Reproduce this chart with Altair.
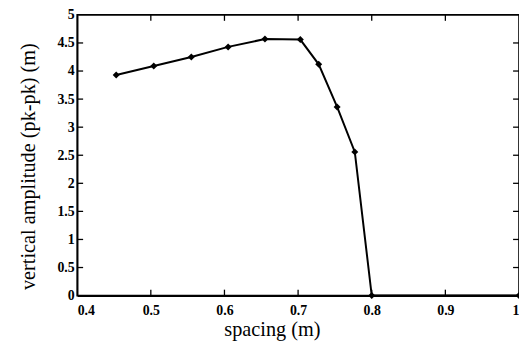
import altair as alt
import pandas as pd

# data
spacing = [0.453, 0.504, 0.555, 0.605, 0.655, 0.703, 0.728, 0.753, 0.777, 0.800, 1.000]
amplitude = [3.93, 4.09, 4.25, 4.43, 4.57, 4.56, 4.12, 3.36, 2.56, 0.0, 0.0]
x_ticks = [0.4, 0.5, 0.6, 0.7, 0.8, 0.9, 1.0]
y_ticks = [0, 0.5, 1, 1.5, 2, 2.5, 3, 3.5, 4, 4.5, 5]

W, H = 447, 284
FONT = "Liberation Serif"
XT = "spacing (m)"
YT = "vertical amplitude (pk-pk) (m)"

df = pd.DataFrame({"spacing": spacing, "amp": amplitude})
xt = pd.DataFrame({"x": x_ticks[1:-1]})
yt = pd.DataFrame({"y": y_ticks[1:-1]})

xscale = alt.Scale(domain=[0.4, 1.0], nice=False, zero=False)
yscale = alt.Scale(domain=[0, 5], nice=False)
xaxis = alt.Axis(values=x_ticks, format="~g", tickSize=0, grid=False,
                 labelOverlap=False, labelPadding=8,
                 titleX=197, titleY=40, titleAlign="center", titleBaseline="alphabetic")
yaxis = alt.Axis(values=y_ticks, format="~g", tickSize=0, grid=False,
                 labelOverlap=False, labelPadding=3,
                 titleX=-43, titleY=153, titleAlign="center", titleBaseline="alphabetic")

line = alt.Chart(df).mark_line(
    color="black", strokeWidth=2,
    point=alt.OverlayMarkDef(shape="diamond", size=50, filled=True, color="black"),
).encode(
    x=alt.X("spacing:Q", scale=xscale, title=XT, axis=xaxis),
    y=alt.Y("amp:Q", scale=yscale, title=YT, axis=yaxis),
)

tick_len = 6
rule = dict(color="black", strokeWidth=1.3)
bottom = alt.Chart(xt).mark_rule(**rule).encode(
    x=alt.X("x:Q", scale=xscale, title=XT, axis=xaxis),
    y=alt.value(H), y2=alt.value(H - tick_len))
top = alt.Chart(xt).mark_rule(**rule).encode(
    x=alt.X("x:Q", scale=xscale, title=XT, axis=xaxis),
    y=alt.value(0), y2=alt.value(tick_len))
left = alt.Chart(yt).mark_rule(**rule).encode(
    y=alt.Y("y:Q", scale=yscale, title=YT, axis=yaxis),
    x=alt.value(0), x2=alt.value(tick_len))
right = alt.Chart(yt).mark_rule(**rule).encode(
    y=alt.Y("y:Q", scale=yscale, title=YT, axis=yaxis),
    x=alt.value(W), x2=alt.value(W - tick_len))

chart = alt.layer(line, bottom, top, left, right).properties(
    width=W, height=H,
    autosize=alt.AutoSizeParams(type="none"),
    padding={"left": 70, "top": 5, "right": 0, "bottom": 47},
    background="white",
).configure_view(
    stroke="black", strokeWidth=1.6
).configure_axis(
    domainColor="black", domainWidth=1.6,
    labelFont=FONT, labelFontSize=14, labelColor="black", labelFontWeight="bold",
    titleFont=FONT, titleFontSize=20.5, titleColor="black", titleFontWeight="normal",
)

chart.save("out.html", embed_options={"renderer": "svg", "actions": False})
